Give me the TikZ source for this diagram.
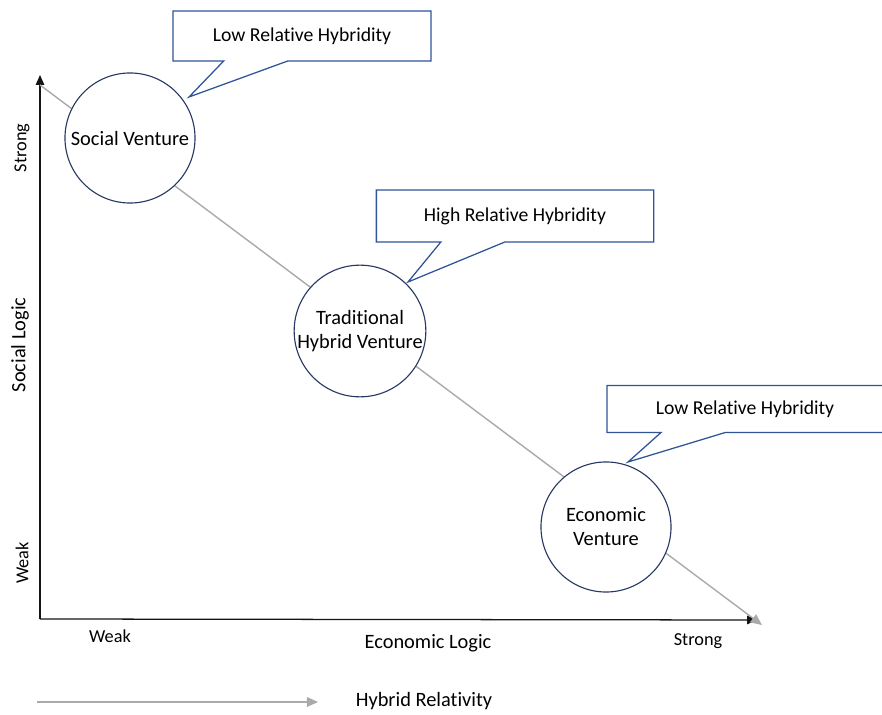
\documentclass[tikz,border=0pt]{standalone}
\usepackage{fontspec}
\setmainfont{Carlito}[Ligatures=NoCommon]
\usepackage{tikz}
\usetikzlibrary{shapes.geometric, shapes.callouts, arrows.meta, positioning, calc}
\definecolor{mynavy}{RGB}{40,58,100}
\definecolor{myblue}{RGB}{47,85,151}
\definecolor{mygrey}{RGB}{170,170,170}
\definecolor{mydark}{RGB}{20,20,20}
\tikzset{
  venture/.style={circle, draw=mynavy, fill=white, minimum size=3.25cm,
    align=center, inner sep=0pt, line width=0.8pt,
    font=\fontsize{14.5}{17}\selectfont},
  bubble/.style={rectangle callout, draw=myblue, fill=white, line width=0.9pt,
    minimum height=1.25cm, callout pointer width=1.6cm,
    font=\fontsize{14}{17}\selectfont},
  axis/.style={-{Triangle[length=7pt, width=6pt]}, line width=0.9pt, color=mydark},
  greyarrow/.style={-{Triangle[length=8pt, width=7pt]}, line width=1pt, color=mygrey},
  scalelabel/.style={font=\fontsize{13}{15}\selectfont},
  axislabel/.style={font=\fontsize{14.5}{17}\selectfont}
}
\begin{document}
\begin{tikzpicture}[x=0.025cm, y=-0.025cm]
  \useasboundingbox (0,0) rectangle (882,715);
  % Axes
  \coordinate (origin) at (40,619);
  \coordinate (ytop) at (40,75);
  \coordinate (xend) at (757,620);
  \draw[axis] (origin) -- (ytop);
  \draw[axis] (origin) -- (xend);
  % Relativity line
  \coordinate (hstart) at (40,85);
  \coordinate (hend) at (762,625);
  \draw[greyarrow] (hstart) -- (hend);
  % Ventures
  \node[venture] (social) at (130,138) {Social Venture};
  \node[venture] (hybrid) at (360,331) {Traditional\\Hybrid Venture};
  \node[venture] (economic) at (606,527) {Economic\\Venture};
  % Callouts
  \coordinate (tip1) at (189,97);
  \coordinate (tip2) at (408,282);
  \coordinate (tip3) at (628,462);
  \node[bubble, minimum width=6.45cm, callout absolute pointer={(tip1)}] (low1) at (302,36) {Low Relative Hybridity};
  \node[bubble, minimum width=6.93cm, minimum height=1.3cm, callout absolute pointer={(tip2)}] (high) at (515,216) {High Relative Hybridity};
  \node[bubble, minimum width=6.9cm, minimum height=1.18cm, callout absolute pointer={(tip3)}] (low2) at (745,409) {Low Relative Hybridity};
  % Axis labels
  \node[scalelabel, rotate=90] (ystrong) at (22,148) {Strong};
  \node[scalelabel, rotate=90] (yweak) at (22,563) {Weak};
  \node[axislabel, rotate=90] (ylabel) at (20,345) {Social Logic};
  \node[scalelabel] (xweak) at (110,636) {Weak};
  \node[axislabel] (xlabel) at (428,643) {Economic Logic};
  \node[scalelabel] (xstrong) at (698,641) {Strong};
  % Legend
  \coordinate (lstart) at (37,702);
  \coordinate (lend) at (318,702);
  \draw[greyarrow] (lstart) -- (lend);
  \node[axislabel] (legend) at (424,701) {Hybrid Relativity};
\end{tikzpicture}
\end{document}
